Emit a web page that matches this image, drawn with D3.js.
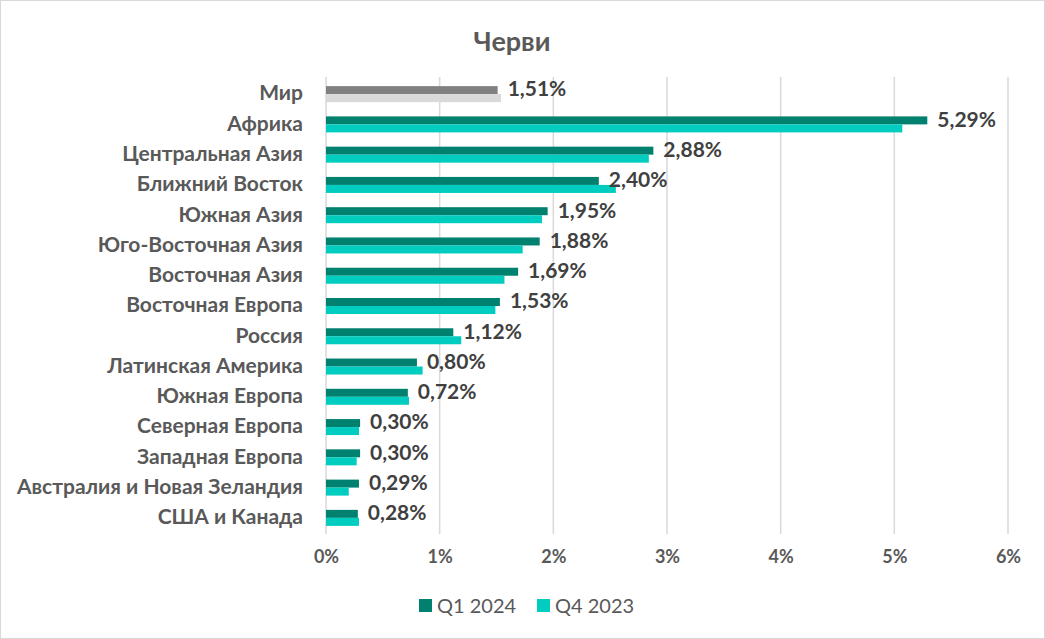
<!DOCTYPE html>
<html>
<head>
<meta charset="utf-8">
<script src="https://cdn.jsdelivr.net/npm/d3@7"></script>
<style>
  body { margin: 0; background: #fff; }
  text { font-family: Lato, "Open Sans", sans-serif; font-weight: bold; }
</style>
</head>
<body>
<div class="barChart"></div>
<script>
/* chart data */
const categories = ["Мир", "Африка", "Центральная Азия", "Ближний Восток", "Южная Азия",
  "Юго-Восточная Азия", "Восточная Азия", "Восточная Европа", "Россия", "Латинская Америка",
  "Южная Европа", "Северная Европа", "Западная Европа", "Австралия и Новая Зеландия", "США и Канада"];
const q1_2024 = [1.51, 5.29, 2.88, 2.40, 1.95, 1.88, 1.69, 1.53, 1.12, 0.80, 0.72, 0.30, 0.30, 0.29, 0.28];
const q4_2023 = [1.54, 5.07, 2.84, 2.55, 1.90, 1.73, 1.57, 1.49, 1.19, 0.85, 0.73, 0.29, 0.27, 0.20, 0.29];
const seriesNames = ["Q1 2024", "Q4 2023"];
const xTicks = [0, 1, 2, 3, 4, 5, 6];

const width = 1045, height = 639;
const colors = ["#00806E", "#00CCC0"];
const worldColors = ["#808080", "#D9D9D9"];

const svg = d3.select(".barChart").append("svg")
  .attr("width", width)
  .attr("height", height);

/* outer border */
svg.append("rect")
  .attr("x", 0.5).attr("y", 0.5)
  .attr("width", width - 1).attr("height", height - 1)
  .attr("fill", "#fff").attr("stroke", "#D9D9D9");

/* scales */
const xScale = d3.scaleLinear().domain([0, 6]).range([326, 1008]);
const yScale = d3.scaleBand().domain(categories).range([79, 533]);
const barH = 8;

/* title */
svg.append("text")
  .attr("x", 512).attr("y", 51)
  .attr("text-anchor", "middle")
  .attr("fill", "#595959")
  .style("font-size", "27px")
  .text("Черви");

/* gridlines */
svg.append("g").selectAll("line")
  .data(xTicks)
  .join("line")
  .attr("x1", d => xScale(d)).attr("x2", d => xScale(d))
  .attr("y1", 77).attr("y2", 534)
  .attr("stroke", "#D9D9D9")
  .attr("stroke-width", 1.5);

/* x axis labels */
const xAxis = d3.axisBottom(xScale)
  .tickValues(xTicks)
  .tickSize(0)
  .tickPadding(0)
  .tickFormat(d => d + "%");
svg.append("g")
  .attr("transform", "translate(0, 550)")
  .call(xAxis)
  .call(g => g.select(".domain").remove())
  .call(g => g.selectAll("text")
    .attr("fill", "#595959")
    .style("font-size", "18px")
    .style("font-family", "Lato, sans-serif"));

/* category labels */
svg.append("g").selectAll("text")
  .data(categories)
  .join("text")
  .attr("x", 303)
  .attr("y", d => yScale(d) + yScale.bandwidth() / 2 - 1)
  .attr("dy", "0.35em")
  .attr("text-anchor", "end")
  .attr("fill", "#595959")
  .style("font-size", "21px")
  .text(d => d);

/* bars */
const rows = categories.map((c, i) => ({ c, i, v: [q1_2024[i], q4_2023[i]] }));
const groups = svg.append("g").selectAll("g")
  .data(rows)
  .join("g")
  .attr("transform", d => `translate(0, ${yScale(d.c) + yScale.bandwidth() / 2 - barH})`);

groups.selectAll("rect")
  .data(d => d.v.map((v, k) => ({ v, k, world: d.i === 0 })))
  .join("rect")
  .attr("x", xScale(0))
  .attr("y", d => d.k * barH)
  .attr("width", d => xScale(d.v) - xScale(0))
  .attr("height", barH)
  .attr("fill", d => d.world ? worldColors[d.k] : colors[d.k]);

/* value labels for Q1 2024 */
groups.append("text")
  .attr("x", d => xScale(d.v[0]) + 10)
  .attr("y", barH / 2 - 1)
  .attr("dy", "0.35em")
  .attr("fill", "#404040")
  .style("font-size", "21px")
  .text(d => d.v[0].toFixed(2).replace(".", ",") + "%");

/* legend */
const legend = svg.append("g").attr("transform", "translate(419, 599)");
const legendX = [0, 118];
seriesNames.forEach((name, k) => {
  legend.append("rect")
    .attr("x", legendX[k]).attr("y", 0)
    .attr("width", 13).attr("height", 13)
    .attr("fill", colors[k]);
  legend.append("text")
    .attr("x", legendX[k] + 18).attr("y", 7)
    .attr("dy", "0.36em")
    .attr("fill", "#595959")
    .style("font-size", "20px")
    .style("font-weight", "normal")
    .text(name);
});
</script>
</body>
</html>
